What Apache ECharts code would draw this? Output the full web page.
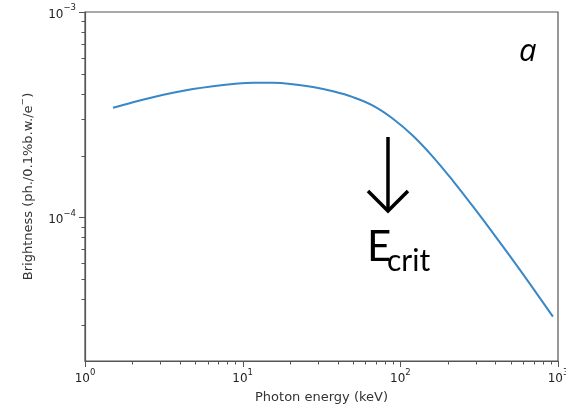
<!DOCTYPE html>
<html><head><meta charset="utf-8">
<script src="https://cdn.jsdelivr.net/npm/echarts@6/dist/echarts.min.js"></script>
<style>html,body{margin:0;padding:0;background:#fff}#c{width:566px;height:412px}</style>
</head><body><div id="c"></div>
<script>
// ---- data ----
const energy = [1.505, 2.016, 2.699, 3.614, 4.839, 6.482, 8.679, 11.62, 15.56, 20.84, 27.92, 37.38, 50.05, 67.04, 89.76, 120.2, 160.9, 215.6, 288.7, 386.6, 517.6, 693.1, 928.4];
const brightness = [3.420e-4, 3.639e-4, 3.849e-4, 4.044e-4, 4.216e-4, 4.355e-4, 4.460e-4, 4.525e-4, 4.525e-4, 4.455e-4, 4.312e-4, 4.110e-4, 3.849e-4, 3.499e-4, 3.022e-4, 2.497e-4, 1.972e-4, 1.507e-4, 1.131e-4, 8.40e-5, 6.20e-5, 4.53e-5, 3.29e-5];
const xMajorTicks = [1, 10, 100, 1000];
const xMinorTicks = [2,3,4,5,6,7,8,9,20,30,40,50,60,70,80,90,200,300,400,500,600,700,800,900];
const yMajorTicks = [1e-4, 1e-3];
const yMinorTicks = [3e-5,4e-5,5e-5,6e-5,7e-5,8e-5,9e-5,2e-4,3e-4,4e-4,5e-4,6e-4,7e-4,8e-4,9e-4];
const xName = 'Photon energy (keV)';
const yNameParts = ['Brightness (ph./0.1%b.w./e', '\u2212', ')'];
const ecritEnergy = 83.5;
const panelLabel = 'a';

const spine = '#555';
function expLabel(v) {
  const e = Math.log10(v);
  if (Math.abs(e - Math.round(e)) > 1e-6) return '';
  const n = Math.round(e);
  return '{b|10}{s|' + (n < 0 ? '\u2212' + (-n) : n) + '}';
}
const rich = {
  b: {fontSize: 12, fontFamily: 'DejaVu Sans', color: '#222', lineHeight: 17, verticalAlign: 'bottom'},
  s: {fontSize: 8.5, fontFamily: 'DejaVu Sans', color: '#222', verticalAlign: 'top', lineHeight: 10}
};

const chart = echarts.init(document.getElementById('c'), null, {renderer: 'canvas'});
chart.setOption({
  animation: false,
  backgroundColor: '#fff',
  grid: {left: 85, right: 8, top: 12, bottom: 51, outerBoundsMode: 'none', containLabel: false,
         show: true, borderColor: spine, borderWidth: 1.2, backgroundColor: 'transparent'},
  xAxis: {
    type: 'log', logBase: 10, min: 1, max: 1000,
    name: xName, nameLocation: 'middle', nameGap: 30,
    nameTextStyle: {fontSize: 13, fontFamily: 'DejaVu Sans', color: '#333'},
    axisLine: {show: true, lineStyle: {color: spine, width: 1.2}},
    axisTick: {show: false}, splitLine: {show: false},
    axisLabel: {margin: 7, formatter: expLabel, rich: rich, hideOverlap: false}
  },
  yAxis: {
    type: 'log', logBase: 10, min: 2e-5, max: 1e-3,
    name: '{n|' + yNameParts[0] + '}{s|' + yNameParts[1] + '}{n|' + yNameParts[2] + '}',
    nameLocation: 'middle', nameGap: 50,
    nameTextStyle: {rich: {
      n: {fontSize: 13, fontFamily: 'DejaVu Sans', color: '#333', lineHeight: 17, verticalAlign: 'bottom'},
      s: {fontSize: 9, fontFamily: 'DejaVu Sans', color: '#333', verticalAlign: 'top', lineHeight: 10}
    }},
    axisLine: {show: true, lineStyle: {color: spine, width: 1.2}},
    axisTick: {show: false}, splitLine: {show: false},
    axisLabel: {margin: 9, formatter: expLabel, rich: rich}
  },
  series: [{
    type: 'line', data: energy.map((e, i) => [e, brightness[i]]),
    showSymbol: false, smooth: 0.4,
    lineStyle: {color: '#3887c7', width: 2}
  }]
});

// ticks and annotations
const g = [];
function px(x, y) { return chart.convertToPixel({gridIndex: 0}, [x, y]); }
const yMin = 2e-5;
const x0 = px(1, yMin)[0];
const yBottom = px(1, yMin)[1];
function xt(v, len) {
  const x = Math.round(px(v, yMin)[0]) + 0.5;
  g.push({type: 'line', shape: {x1: x, y1: yBottom, x2: x, y2: yBottom + len}, style: {stroke: spine, lineWidth: 1}});
}
function yt(v, len) {
  const y = Math.round(px(1, v)[1]) + 0.5;
  g.push({type: 'line', shape: {x1: x0 - len, y1: y, x2: x0, y2: y}, style: {stroke: spine, lineWidth: 1}});
}
xMajorTicks.forEach(v => xt(v, 6));
xMinorTicks.forEach(v => xt(v, 3.5));
yMajorTicks.forEach(v => yt(v, 6));
yMinorTicks.forEach(v => yt(v, 3.5));

const ax = px(ecritEnergy, yMin)[0];
g.push({type: 'line', shape: {x1: ax, y1: 137, x2: ax, y2: 211}, style: {stroke: '#000', lineWidth: 3.5}});
g.push({type: 'polyline', shape: {points: [[ax - 20, 191], [ax, 211], [ax + 20, 191]]}, style: {stroke: '#000', lineWidth: 3.5, fill: null}});
g.push({type: 'text', x: ax - 21, y: 247, style: {text: 'E', font: '42px Lato', fill: '#000', verticalAlign: 'middle', align: 'left'}});
g.push({type: 'text', x: ax - 1, y: 261, style: {text: 'crit', font: '30px Lato', fill: '#000', verticalAlign: 'middle', align: 'left'}});
g.push({type: 'text', x: 519, y: 52, style: {text: panelLabel, font: 'italic 31px "Open Sans"', fill: '#000', verticalAlign: 'middle', align: 'left'}});
chart.setOption({graphic: g});
</script></body></html>
